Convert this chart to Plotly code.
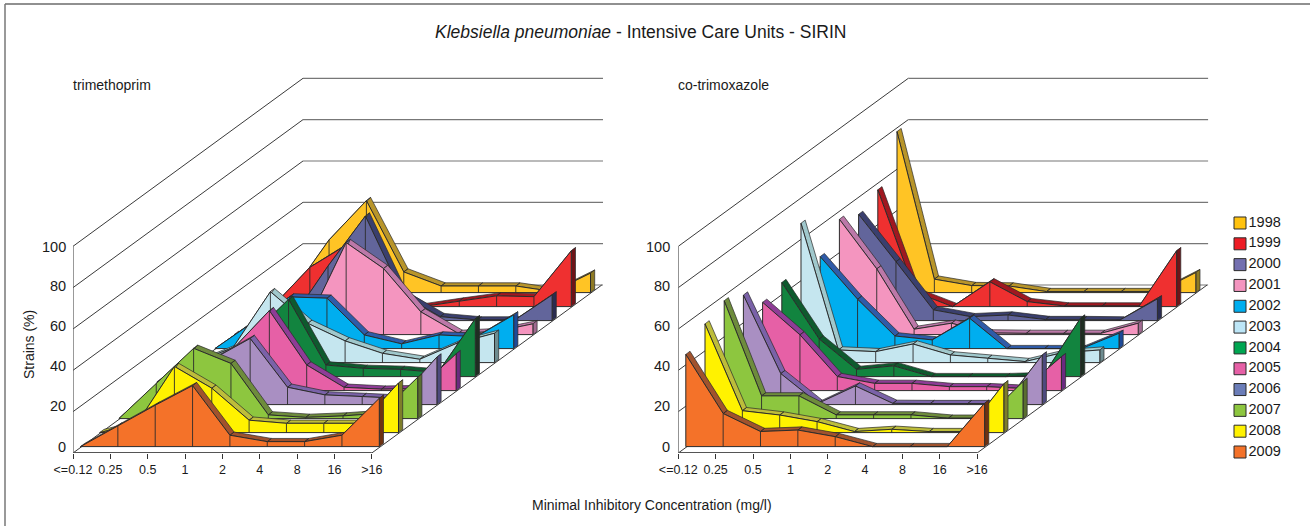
import plotly.graph_objects as go

W, H = 1310, 526
MIC = ["<=0.12", "0.25", "0.5", "1", "2", "4", "8", "16", ">16"]
YEARS = ["2009", "2008", "2007", "2006", "2005", "2004", "2003", "2002", "2001", "2000", "1999", "1998"]
Y_TICKS = [0, 20, 40, 60, 80, 100]

# trimethoprim: % of strains per MIC class
tri_2009 = [0, 10, 20, 29.5, 5.5, 2.4, 2.4, 5.5, 23.4]
tri_2008 = [0, 4.5, 32, 21.5, 6, 4.5, 4.5, 4.5, 24]
tri_2007 = [0, 17, 34, 26.7, 1.8, 0.6, 1.3, 2.6, 20]
tri_2006 = [0, 3, 22, 32, 8.4, 4.7, 3.9, 3, 23]
tri_2005 = [4.4, 5, 19.7, 38.7, 12.4, 1.6, 0.7, 1, 17.8]
tri_2004 = [0, 2, 20, 37.4, 5.6, 4, 3.5, 2, 28]
tri_2003 = [0, 7.3, 34.3, 19, 10.5, 4.5, 1.6, 9.4, 14.2]
tri_2002 = [0, 12.4, 25, 24.4, 6.6, 2.3, 6.6, 5.8, 16.3]
tri_2001 = [0, 0, 7, 44.5, 32, 11, 0.6, 1.5, 5.2]
tri_2000 = [0, 0, 26.4, 50.6, 12.4, 1.9, 0.3, 0.3, 12.4]
tri_1999 = [0, 19, 30, 11, 0, 2.7, 5.2, 4.8, 27]
tri_1998 = [0, 25.5, 44.5, 10, 3.2, 3.2, 3.2, 0.5, 9.4]
TRI = [tri_2009, tri_2008, tri_2007, tri_2006, tri_2005, tri_2004, tri_2003, tri_2002, tri_2001, tri_2000, tri_1999, tri_1998]

# co-trimoxazole
cot_2009 = [44.6, 16, 7.3, 8, 4.8, 0, 0, 0, 21]
cot_2008 = [52.6, 10.6, 8.5, 5.3, 0.5, 1.6, 0.5, 0.5, 23.6]
cot_2007 = [57, 11, 11, 1.8, 1.8, 1.8, 0.2, 0.2, 17.9]
cot_2006 = [53, 15, 0.6, 9, 0.6, 0.5, 0.5, 0.5, 24]
cot_2005 = [42.7, 27, 6.8, 3.5, 3.5, 1.9, 1.9, 1, 16.4]
cot_2004 = [45.5, 18.2, 3.5, 5.2, 0, 0, 0, 0.5, 28.3]
cot_2003 = [67.4, 6.1, 5.3, 9, 3.7, 2.1, 0.5, 4.8, 6.1]
cot_2002 = [44.5, 23.9, 6.1, 4.2, 14.7, 0, 0, 0, 7.4]
cot_2001 = [55.8, 31.8, 2.6, 5.5, 0.8, 0.6, 0.6, 0.6, 5.5]
cot_2000 = [51.4, 28.5, 5.2, 1.9, 2.7, 0.5, 0.5, 0.3, 10.5]
cot_1999 = [56.5, 7, 0, 12, 2.4, 0.3, 0.3, 0.3, 27]
cot_1998 = [77.9, 6.5, 3.4, 3.2, 0.5, 0.5, 0.5, 0.5, 9.7]
COT = [cot_2009, cot_2008, cot_2007, cot_2006, cot_2005, cot_2004, cot_2003, cot_2002, cot_2001, cot_2000, cot_1999, cot_1998]

FACE = ["#F47229", "#FFF200", "#8DC63F", "#A98FC2", "#E660A6", "#12843F", "#C5E6EF", "#00AEEF", "#F495BF", "#62659B", "#EF3030", "#FFC425"]
TOP = ["#A0522D", "#BDBD3A", "#6E8C3C", "#7A62A8", "#8E3C96", "#0E5A2E", "#A0C8CC", "#2F5BA8", "#BC78A8", "#3A3F6E", "#A01820", "#B8952A"]
SIDE = ["#6E3212", "#7E7E2A", "#5A6E30", "#4E4A7E", "#6A2A80", "#1E2E22", "#6E8C90", "#1E4A98", "#A06A90", "#2A2C50", "#6E1418", "#8E7A24"]
LEGEND_FACE = ["#F47229", "#FFF200", "#8DC63F", "#6B7DB8", "#E660A6", "#00A651", "#BDE6F7", "#00AEEF", "#F495BF", "#7470B0", "#ED1C24", "#FFC20E"]

# geometry, in axis units: 1 category = 37.35 px, 1 % = 2.067 px
PX_X, PX_Y = 37.35, 2.067
DEPTH_X, DEPTH_Y = 230 / PX_X, 168 / PX_Y
OFF_X, OFF_Y = 7.5 / PX_X, 6.4 / PX_Y
STEP_X, STEP_Y = 19.2 / PX_X, 14 / PX_Y
THICK_X, THICK_Y = 4.2 / PX_X, 3.2 / PX_Y
BACK_LEN = 300 / PX_X
OUTLINE = "#2b2b2b"
FONT = "Liberation Sans"

fig = go.Figure()


def add(xa, ya, x, y, fill=None, line="#2b2b2b", w=1.0):
    fig.add_trace(go.Scatter(
        x=x, y=y, xaxis=xa, yaxis=ya, mode="lines",
        fill="toself" if fill else None, fillcolor=fill,
        line=dict(color=line, width=w), hoverinfo="skip", showlegend=False))


def panel(xa, ya, data):
    # walls and floor
    for t in Y_TICKS:
        add(xa, ya, [0, DEPTH_X], [t, t + DEPTH_Y], line="#3a3a3a", w=1)
        add(xa, ya, [DEPTH_X, DEPTH_X + BACK_LEN], [t + DEPTH_Y, t + DEPTH_Y], line="#777777", w=1.2)
    add(xa, ya, [0, 0], [0, 100], line="#555555", w=1.2)
    add(xa, ya, [8, 8 + DEPTH_X], [0, DEPTH_Y], line="#3a3a3a", w=1)
    add(xa, ya, [0, 8], [0, 0], line="#555555", w=2)
    # series, back to front
    for k in range(len(data) - 1, -1, -1):
        ox = OFF_X + k * STEP_X
        oy = OFF_Y + k * STEP_Y
        xs = [i + ox for i in range(len(MIC))]
        ys = [v + oy for v in data[k]]
        # top ribbons
        rx, ry = [], []
        for i in range(len(xs) - 1):
            rx += [xs[i], xs[i + 1], xs[i + 1] + THICK_X, xs[i] + THICK_X, xs[i], None]
            ry += [ys[i], ys[i + 1], ys[i + 1] + THICK_Y, ys[i] + THICK_Y, ys[i], None]
        add(xa, ya, rx[:-1], ry[:-1], fill=TOP[k], line=OUTLINE, w=0.7)
        # right end face
        ex = [xs[-1], xs[-1] + THICK_X, xs[-1] + THICK_X, xs[-1], xs[-1]]
        ey = [oy, oy + THICK_Y, ys[-1] + THICK_Y, ys[-1], oy]
        add(xa, ya, ex, ey, fill=SIDE[k], line=OUTLINE, w=0.7)
        # front face
        add(xa, ya, [xs[0]] + xs + [xs[-1], xs[0]], [oy] + ys + [oy, oy], fill=FACE[k], line=OUTLINE, w=1)
        # separators
        sx, sy = [], []
        for i in range(1, len(xs) - 1):
            sx += [xs[i], xs[i], None]
            sy += [oy, ys[i], None]
        add(xa, ya, sx[:-1], sy[:-1], line=OUTLINE, w=0.9)


panel("x", "y", TRI)
panel("x2", "y2", COT)

# legend, as its own small plot
fig.add_trace(go.Scatter(
    x=[0] * len(YEARS), y=list(range(len(YEARS))), xaxis="x3", yaxis="y3",
    mode="markers+text", text=YEARS, textposition="middle right",
    textfont=dict(family=FONT, size=14.5, color="#1a1a1a"),
    marker=dict(symbol="square", size=12, color=LEGEND_FACE, line=dict(color="#2b2b2b", width=1)),
    hoverinfo="skip", showlegend=False))


def dom_x(a, b):
    return [a / W, b / W]


def dom_y(top, bottom):
    return [1 - bottom / H, 1 - top / H]


TOP_PX, FLOOR_PX = 70, 453
Y_MAX = (FLOOR_PX - TOP_PX) / PX_Y
TICKFONT = dict(family=FONT, size=12.5, color="#1a1a1a")


def xaxis(a):
    return dict(domain=dom_x(a, a + 530), range=[0, 530 / PX_X], tickmode="array",
                tickvals=list(range(len(MIC))), ticktext=MIC, ticks="outside", ticklen=5,
                tickcolor="#333333", tickwidth=1, showgrid=False, zeroline=False,
                showline=False, tickfont=TICKFONT, tickangle=0,
                fixedrange=True, automargin=False)


def yaxis(anchor):
    return dict(domain=dom_y(TOP_PX, FLOOR_PX), range=[0, Y_MAX], anchor=anchor, visible=False,
                fixedrange=True)


fig.update_layout(
    width=W, height=H, margin=dict(l=0, r=0, t=0, b=0, pad=0), autosize=False,
    paper_bgcolor="white", plot_bgcolor="rgba(0,0,0,0)", showlegend=False,
    xaxis=dict(xaxis(73), anchor="y"), yaxis=yaxis("x"),
    xaxis2=dict(xaxis(678.3), anchor="y2"), yaxis2=yaxis("x2"),
    xaxis3=dict(domain=dom_x(1220, 1300), range=[-20 / 80, 60 / 80], visible=False, anchor="y3", fixedrange=True),
    yaxis3=dict(domain=dom_y(213, 462), range=[-0.48, 11.48], visible=False, anchor="x3", fixedrange=True),
)


def label(text, px, py, size=14, angle=0, xanchor="center"):
    fig.add_annotation(x=px / W, y=1 - py / H, xref="paper", yref="paper", text=text, showarrow=False,
                       xanchor=xanchor, yanchor="middle", textangle=angle, borderpad=0, borderwidth=0,
                       font=dict(family=FONT, size=size, color="#1a1a1a"))


label("<i>Klebsiella pneumoniae</i> - Intensive Care Units - SIRIN", 640.5, 32, size=17.5)
label("trimethoprim", 73, 85, size=14, xanchor="left")
label("co-trimoxazole", 678, 85, size=14, xanchor="left")
label("Strains (%)", 29, 345, size=14, angle=-90)
label("Minimal Inhibitory Concentration (mg/l)", 652, 505, size=14)

Y_LABEL_PX = [447, 406, 366, 326, 286, 247]
for t, py in zip(Y_TICKS, Y_LABEL_PX):
    label(str(t), 66, py, size=14.5, xanchor="right")
    label(str(t), 670, py, size=14.5, xanchor="right")

# frame
fig.add_shape(type="line", xref="paper", yref="paper", x0=5 / W, x1=1, y0=1 - 4 / H, y1=1 - 4 / H,
              line=dict(color="#222222", width=1.2))
fig.add_shape(type="line", xref="paper", yref="paper", x0=5 / W, x1=5 / W, y0=0, y1=1 - 4 / H,
              line=dict(color="#777777", width=1.5))

fig.write_html("out.html", config={"displayModeBar": False},
               post_script="document.body.style.margin='0';document.body.style.overflow='hidden';")
